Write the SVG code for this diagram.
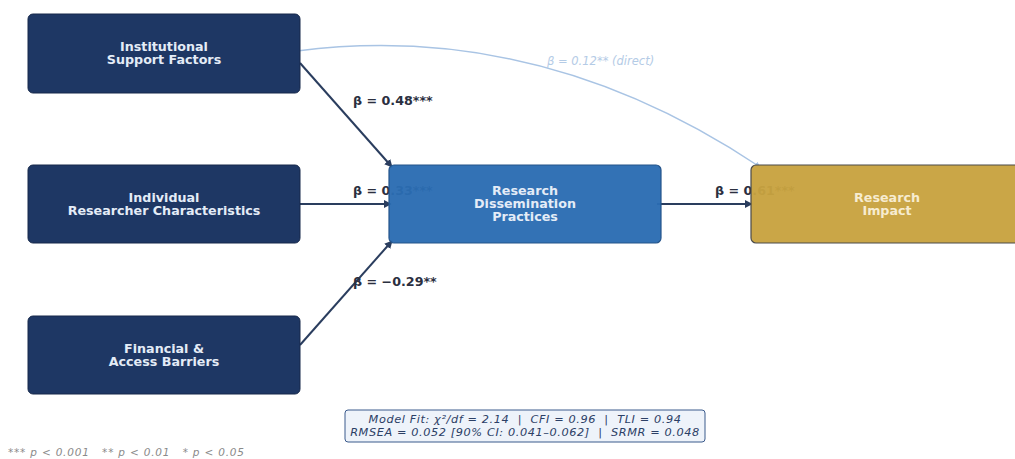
<svg xmlns="http://www.w3.org/2000/svg" width="1015" height="459" viewBox="0 0 1015 459">
<style>
.node{fill:#1e3764;stroke:#17294b;stroke-width:1}
.nt{font-family:"DejaVu Sans",sans-serif;font-weight:bold;font-size:12.7px;fill:#e4ecf7;text-anchor:middle}
.edge{stroke:#2a3d5e;stroke-width:2;fill:none}
.lbl{font-family:"DejaVu Sans",sans-serif;font-weight:bold;font-size:12.7px;fill:#2b2f3f}
.fit{font-family:"DejaVu Sans",sans-serif;font-style:italic;font-size:11.3px;letter-spacing:0.6px;fill:#2c4066;text-anchor:middle}
</style>
<defs>
<marker id="ah" viewBox="0 0 10 10" refX="9" refY="5" markerWidth="4" markerHeight="4" orient="auto"><path d="M0,0 L10,5 L0,10 z" fill="#2a3d5e"/></marker>
<marker id="ahl" viewBox="0 0 10 10" refX="9" refY="5" markerWidth="4" markerHeight="4" orient="auto"><path d="M0,0 L10,5 L0,10 z" fill="#a9c4e4"/></marker>
</defs>
<rect width="1015" height="459" fill="#ffffff"/>
<g id="connectors">
<path d="M297,51 Q540,20 760,167" stroke="#a9c4e4" stroke-width="1.5" fill="none" marker-end="url(#ahl)"/>
<line class="edge" x1="300" y1="63" x2="392" y2="167" marker-end="url(#ah)"/>
<line class="edge" x1="300" y1="204" x2="391" y2="204" marker-end="url(#ah)"/>
<line class="edge" x1="300" y1="345" x2="392" y2="241" marker-end="url(#ah)"/>
<line class="edge" x1="657" y1="204" x2="752" y2="204" marker-end="url(#ah)"/>
<text class="lbl" x="353" y="105">β = 0.48***</text>
<text class="lbl" x="353" y="195">β = 0.33***</text>
<text class="lbl" x="353" y="286">β = −0.29**</text>
<text class="lbl" x="715" y="195">β = 0.61***</text>
<text x="547" y="65" font-family="DejaVu Sans,sans-serif" font-style="italic" font-size="11.5" fill="#b4cbe6">β = 0.12** (direct)</text>
</g>
<g id="n1"><rect class="node" x="28" y="14" width="272" height="79" rx="5"/><text class="nt" x="164" y="51">Institutional</text><text class="nt" x="164" y="64">Support Factors</text></g>
<g id="n2"><rect class="node" x="28" y="165" width="272" height="78" rx="5"/><text class="nt" x="164" y="202">Individual</text><text class="nt" x="164" y="215">Researcher Characteristics</text></g>
<g id="n3"><rect class="node" x="28" y="316" width="272" height="78" rx="5"/><text class="nt" x="164" y="353">Financial &amp;</text><text class="nt" x="164" y="366">Access Barriers</text></g>
<g id="n4"><rect x="389" y="165" width="272" height="78" rx="5" fill="#2b6cb2" stroke="#24548a" stroke-width="1.2" fill-opacity="0.96"/><text class="nt" x="525" y="195">Research</text><text class="nt" x="525" y="208">Dissemination</text><text class="nt" x="525" y="221">Practices</text></g>
<g id="n5"><rect x="751" y="165" width="272" height="78" rx="5" fill="#c8a240" stroke="#4a4a4a" stroke-width="1.2" fill-opacity="0.96"/><text class="nt" x="887" y="202" style="fill:#f7ecd0">Research</text><text class="nt" x="887" y="215" style="fill:#f7ecd0">Impact</text></g>
<g id="fit"><rect x="345" y="410" width="360" height="32" rx="3" fill="#eef3fa" stroke="#3b5a8c" stroke-width="1"/><text class="fit" x="525" y="423" xml:space="preserve">Model Fit: χ²/df = 2.14  |  CFI = 0.96  |  TLI = 0.94</text><text class="fit" x="525" y="436" xml:space="preserve">RMSEA = 0.052 [90% CI: 0.041–0.062]  |  SRMR = 0.048</text></g>
<text x="8" y="456" font-family="DejaVu Sans,sans-serif" font-style="italic" font-size="10.5" letter-spacing="0.8" fill="#8a8a8a" xml:space="preserve">*** p &lt; 0.001   ** p &lt; 0.01   * p &lt; 0.05</text>
</svg>
